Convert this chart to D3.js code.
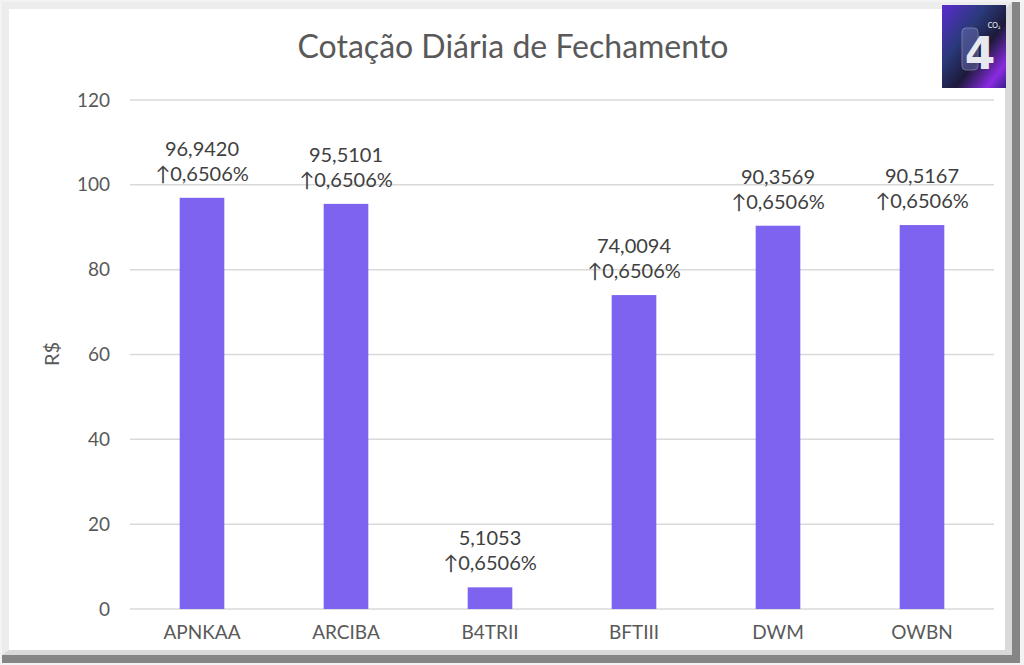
<!DOCTYPE html>
<html>
<head>
<meta charset="utf-8">
<script src="https://cdn.jsdelivr.net/npm/d3@7"></script>
<style>
  body { margin: 0; background: #ffffff; }
  svg { display: block; }
</style>
</head>
<body>
<script>
const width = 1024
const height = 665

// data
const tickers = ['APNKAA', 'ARCIBA', 'B4TRII', 'BFTIII', 'DWM', 'OWBN']
const closes = [96.9420, 95.5101, 5.1053, 74.0094, 90.3569, 90.5167]
const changes = [0.6506, 0.6506, 0.6506, 0.6506, 0.6506, 0.6506]
const yTicks = [0, 20, 40, 60, 80, 100, 120]

const textColor = '#595959'
const barColor = '#7d63ef'
const font = 'Lato, "Open Sans", sans-serif'

const fmt = v => v.toFixed(4).replace('.', ',')

const svg = d3.select('body').append('svg')
    .attr('width', width)
    .attr('height', height)

// frame with bevel / shadow
svg.append('rect').attr('x', 0).attr('y', 0).attr('width', width).attr('height', height).style('fill', '#f3f3f6')
svg.append('rect').attr('x', 2).attr('y', 2).attr('width', 1018).attr('height', 661).style('fill', '#858585')
svg.append('rect').attr('x', 2).attr('y', 2).attr('width', 1010).attr('height', 653).style('fill', '#d9d9d9')
svg.append('polygon')
    .attr('points', '2,2 1012,2 1005,9 9,9 9,650 2,655')
    .style('fill', '#ececec')
svg.append('rect').attr('x', 9).attr('y', 9).attr('width', 996).attr('height', 641).style('fill', '#ffffff')

// scales
const x = d3.scaleBand()
    .domain(tickers)
    .range([130, 994])
    .paddingInner(0.69)
    .paddingOuter(0.345)

const y = d3.scaleLinear()
    .domain([0, 120])
    .range([609, 100])

// gridlines
svg.append('g')
    .selectAll('line')
    .data(yTicks)
    .join('line')
    .attr('x1', 130)
    .attr('x2', 994)
    .attr('y1', d => y(d))
    .attr('y2', d => y(d))
    .style('stroke', '#d9d9d9')
    .style('stroke-width', 1.5)

// y axis labels
const yAxis = svg.append('g')
    .attr('transform', 'translate(110,0)')
    .call(d3.axisLeft(y).tickValues(yTicks).tickSize(0).tickPadding(0))
yAxis.select('.domain').remove()
yAxis.selectAll('text')
    .style('font-family', font)
    .style('font-size', '19px')
    .style('fill', textColor)

// x axis labels
const xAxis = svg.append('g')
    .attr('transform', 'translate(0,625)')
    .call(d3.axisBottom(x).tickSize(0).tickPadding(0))
xAxis.select('.domain').remove()
xAxis.selectAll('text')
    .style('font-family', font)
    .style('font-size', '19px')
    .style('fill', textColor)

// bars
svg.append('g')
    .selectAll('rect')
    .data(tickers)
    .join('rect')
    .attr('x', d => x(d))
    .attr('width', x.bandwidth())
    .attr('y', (d, i) => y(closes[i]))
    .attr('height', (d, i) => y(0) - y(closes[i]))
    .style('fill', barColor)

// data labels
const labels = svg.append('g')
    .selectAll('text')
    .data(tickers)
    .join('text')
    .attr('x', d => x(d) + x.bandwidth() / 2)
    .attr('y', (d, i) => y(closes[i]) - 42)
    .attr('text-anchor', 'middle')
    .style('font-family', font)
    .style('font-size', '20px')
    .style('fill', '#404040')
labels.append('tspan')
    .text((d, i) => fmt(closes[i]))
labels.append('tspan')
    .attr('x', d => x(d) + x.bandwidth() / 2)
    .attr('dy', 25)
    .text((d, i) => '\u2191' + fmt(changes[i]) + '%')

// y axis title
svg.append('text')
    .attr('transform', 'translate(59,354) rotate(-90)')
    .attr('text-anchor', 'middle')
    .style('font-family', font)
    .style('font-size', '20px')
    .style('fill', textColor)
    .text('R$')

// chart title
svg.append('text')
    .attr('x', 513)
    .attr('y', 58)
    .attr('text-anchor', 'middle')
    .style('font-family', font)
    .style('font-size', '32px')
    .style('fill', textColor)
    .text('Cotação Diária de Fechamento')

// logo in the corner
const defs = svg.append('defs')
const g1 = defs.append('linearGradient').attr('id', 'logoBg')
    .attr('x1', '0').attr('y1', '0').attr('x2', '1').attr('y2', '1')
g1.append('stop').attr('offset', '0%').attr('stop-color', '#5a2bd0')
g1.append('stop').attr('offset', '35%').attr('stop-color', '#2a3a7a')
g1.append('stop').attr('offset', '60%').attr('stop-color', '#1c1a3a')
g1.append('stop').attr('offset', '85%').attr('stop-color', '#8a2be2')
g1.append('stop').attr('offset', '100%').attr('stop-color', '#3b1e8a')

const logo = svg.append('g').attr('transform', 'translate(942,5)')
logo.append('rect').attr('width', 64).attr('height', 83).style('fill', 'url(#logoBg)')
logo.append('rect').attr('x', 20).attr('y', 23).attr('width', 16).attr('height', 42)
    .attr('rx', 4)
    .style('fill', '#6a6fb0').style('opacity', 0.5)
    .style('stroke', '#b9b9e8').style('stroke-width', 1)
logo.append('text')
    .attr('x', 38).attr('y', 64)
    .attr('text-anchor', 'middle')
    .style('font-family', '"DejaVu Sans", sans-serif')
    .style('font-weight', 'bold')
    .style('font-size', '44px')
    .style('fill', '#e8e8ef')
    .text('4')
logo.append('text')
    .attr('x', 52).attr('y', 23)
    .attr('text-anchor', 'middle')
    .style('font-family', font)
    .style('font-size', '7px')
    .style('fill', '#ffffff')
    .text('CO₂')
</script>
</body>
</html>
